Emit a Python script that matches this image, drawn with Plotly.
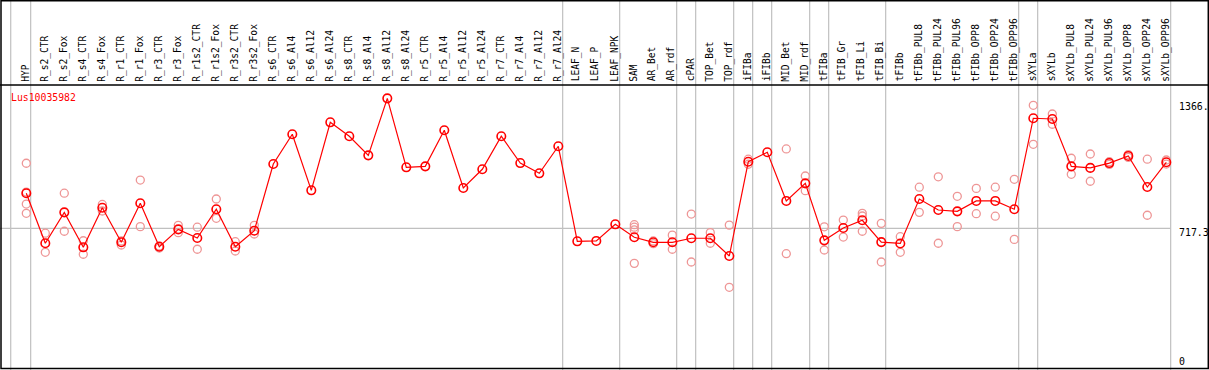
import plotly.graph_objects as go

categories = ["HYP", "R_s2_CTR", "R_s2_Fox", "R_s4_CTR", "R_s4_Fox", "R_r1_CTR", "R_r1_Fox",
              "R_r3_CTR", "R_r3_Fox", "R_r1s2_CTR", "R_r1s2_Fox", "R_r3s2_CTR", "R_r3s2_Fox",
              "R_s6_CTR", "R_s6_Al4", "R_s6_Al12", "R_s6_Al24", "R_s8_CTR", "R_s8_Al4", "R_s8_Al12",
              "R_s8_Al24", "R_r5_CTR", "R_r5_Al4", "R_r5_Al12", "R_r5_Al24", "R_r7_CTR", "R_r7_Al4",
              "R_r7_Al12", "R_r7_Al24", "LEAF_N", "LEAF_P", "LEAF_NPK", "SAM", "AR_Bet", "AR_rdf",
              "cPAR", "TOP_Bet", "TOP_rdf", "iFIBa", "iFIBb", "MID_Bet", "MID_rdf", "tFIBa",
              "tFIB_Gr", "tFIB_Li", "tFIB_Bi", "tFIBb", "tFIBb_PUL8", "tFIBb_PUL24", "tFIBb_PUL96",
              "tFIBb_OPP8", "tFIBb_OPP24", "tFIBb_OPP96", "sXYLa", "sXYLb", "sXYLb_PUL8",
              "sXYLb_PUL24", "sXYLb_PUL96", "sXYLb_OPP8", "sXYLb_OPP24", "sXYLb_OPP96"]

means = [899, 640, 800, 619, 824, 645, 847, 622, 712, 667, 816, 622, 705,
         1050, 1204, 914, 1266, 1194, 1095, 1390, 1033, 1038, 1225, 926, 1023, 1194, 1055,
         1002, 1142, 650, 652, 738, 671, 645, 645, 666, 666, 574, 1062, 1111, 859, 950, 655,
         719, 759, 646, 639, 869, 812, 805, 859, 859, 816, 1287, 1283, 1038, 1030, 1055,
         1092, 931, 1059]

replicates = [
    [1054, 905, 843, 795], [692, 593], [899, 702], [653, 583], [841, 807], [652, 631],
    [967, 726], [626, 615], [733, 695], [723, 609], [869, 769], [648, 600], [733, 688],
    [], [], [], [], [], [], [], [], [], [], [], [], [], [], [], [],
    [], [], [], [736, 723, 709, 536], [652, 638], [682, 609], [791, 543], [695, 640],
    [734, 412], [1075, 1049], [], [1128, 586], [988, 912], [725, 605], [760, 672],
    [795, 781, 702], [743, 543], [674, 593], [930, 800], [984, 640], [883, 726],
    [924, 793], [930, 780], [971, 660], [1354, 1152], [1309, 1256], [1080, 997],
    [1102, 961], [1062, 1048], [1099, 1084], [1075, 785], [1071, 1050]]

gene_id = "Lus10035982"
axis_tick_values = [1366, 717.3, 0]
axis_tick_labels = ["1366.", "717.3", "0"]
group_ends = ["HYP", "R_r7_Al24", "LEAF_NPK", "AR_rdf", "cPAR", "TOP_rdf", "iFIBa", "iFIBb",
              "MID_rdf", "tFIBa", "tFIB_Bi", "tFIBb_OPP96", "sXYLa", "sXYLb_OPP96"]
reference_value = 717.3

W, H = 1209, 370
X0, DX = 26.3, 19.0         # pixel of first category, pixel step
Y0, DY = 366.9, 0.1932      # pixel of value 0, pixels per unit
HEADER = 85
FONT = "DejaVu Sans Mono"

def py_to_paper(py):
    return 1 - py / H

def px_to_paper(px):
    return px / W

idx = list(range(len(categories)))
rx, ry = [], []
for i, reps in enumerate(replicates):
    for v in reps:
        rx.append(i)
        ry.append(v)

fig = go.Figure()
fig.add_trace(go.Scatter(x=rx, y=ry, mode="markers",
                         marker=dict(symbol="circle-open", size=8, color="rgb(238,150,150)",
                                     line=dict(width=1.3, color="rgb(238,150,150)")),
                         showlegend=False, hoverinfo="skip"))
fig.add_trace(go.Scatter(x=idx, y=means, mode="lines+markers",
                         line=dict(color="#ff0000", width=1.2),
                         marker=dict(symbol="circle-open", size=8.5, color="#ff0000",
                                     line=dict(width=1.6, color="#ff0000")),
                         showlegend=False, hoverinfo="skip"))

xmin = -X0 / DX
xmax = (W - X0) / DX
ymin = (Y0 - H) / DY
ymax = Y0 / DY

shapes = []
gray = "#c0c0c0"
sep_positions = [-0.82] + [categories.index(g) + 0.23 for g in group_ends]
for s in sep_positions:
    shapes.append(dict(type="line", xref="x", yref="paper", x0=s, x1=s, y0=0, y1=1,
                       line=dict(color=gray, width=1.2), layer="below"))
last_sep = categories.index(group_ends[-1]) + 0.23
shapes.append(dict(type="line", xref="paper", yref="y", x0=0, x1=px_to_paper(X0 + DX * last_sep),
                   y0=reference_value, y1=reference_value, line=dict(color=gray, width=1.2),
                   layer="below"))
# borders
black = "#000000"
shapes.append(dict(type="line", xref="paper", yref="paper", x0=0, x1=1,
                   y0=py_to_paper(HEADER), y1=py_to_paper(HEADER), line=dict(color=black, width=1.5)))
shapes.append(dict(type="rect", xref="paper", yref="paper", x0=px_to_paper(1), x1=px_to_paper(1208.3),
                   y0=py_to_paper(368.5), y1=py_to_paper(0.8), line=dict(color=black, width=1.5)))

annotations = []
for i, c in enumerate(categories):
    annotations.append(dict(x=i - 0.05, y=py_to_paper(83.5), xref="x", yref="paper", text=c,
                            textangle=-90, showarrow=False, xanchor="center", yanchor="bottom",
                            font=dict(family=FONT, size=9.6, color="black")))
annotations.append(dict(x=px_to_paper(9), y=py_to_paper(97), xref="paper", yref="paper",
                        text=gene_id, showarrow=False, xanchor="left", yanchor="middle",
                        font=dict(family=FONT, size=9.8, color="#ff0000")))
tick_offsets = [4, 4, 0]
for v, t, off in zip(axis_tick_values, axis_tick_labels, tick_offsets):
    py = Y0 - DY * v
    py = min(py + off, 361)
    annotations.append(dict(x=px_to_paper(1176.5), y=py_to_paper(py), xref="paper", yref="paper",
                            text=t, showarrow=False, xanchor="left", yanchor="middle",
                            font=dict(family=FONT, size=9.9, color="black")))

fig.update_layout(
    width=W, height=H, margin=dict(l=0, r=0, t=0, b=0),
    paper_bgcolor="white", plot_bgcolor="white",
    xaxis=dict(range=[xmin, xmax], visible=False, showgrid=False, zeroline=False, fixedrange=True),
    yaxis=dict(range=[ymin, ymax], visible=False, showgrid=False, zeroline=False, fixedrange=True),
    shapes=shapes, annotations=annotations, showlegend=False,
)

fig.write_html("out.html", config={"displayModeBar": False, "staticPlot": True},
               post_script="document.body.style.margin='0';document.body.style.overflow='hidden';")
